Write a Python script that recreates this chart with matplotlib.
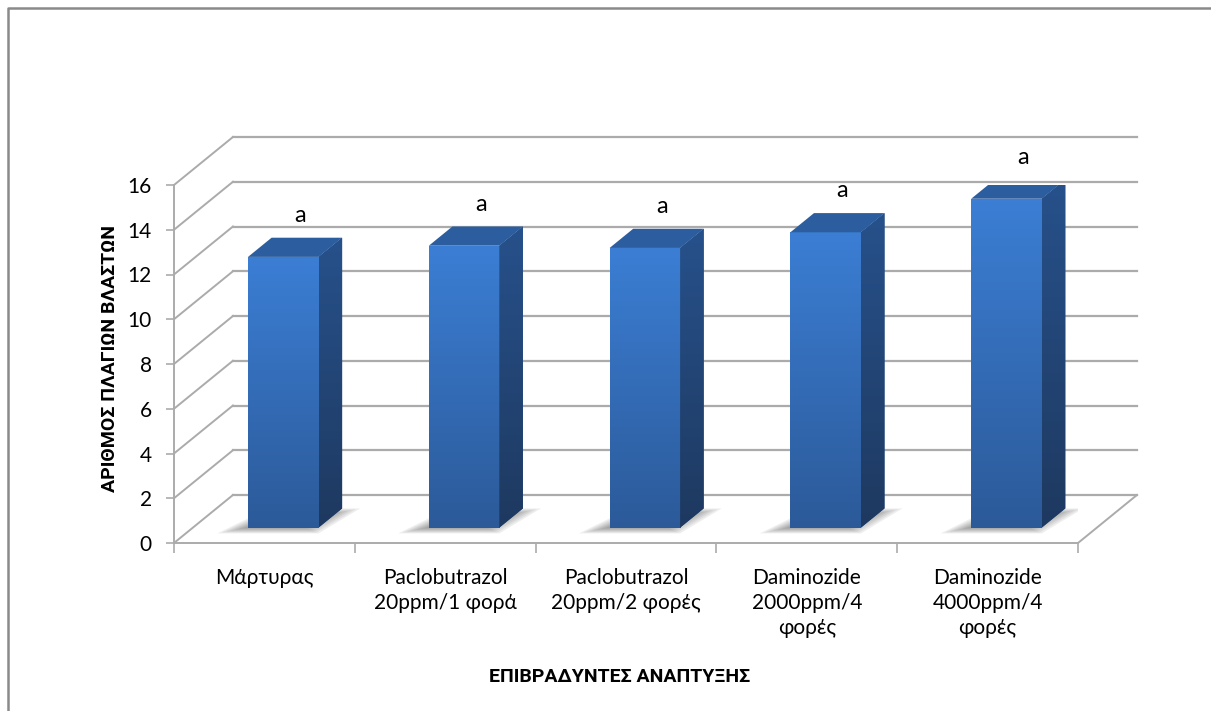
import numpy as np
import matplotlib
matplotlib.use('Agg')
import matplotlib.pyplot as plt
from matplotlib.patches import Polygon
from matplotlib.lines import Line2D

# δεδομένα
categories = ['Μάρτυρας', 'Paclobutrazol\n20ppm/1 φορά', 'Paclobutrazol\n20ppm/2 φορές',
              'Daminozide\n2000ppm/4\nφορές', 'Daminozide\n4000ppm/4\nφορές']
values = [12.1, 12.6, 12.5, 13.2, 14.7]
letters = ['a', 'a', 'a', 'a', 'a']
yticks = [0, 2, 4, 6, 8, 10, 12, 14, 16]
xlabel = 'ΕΠΙΒΡΑΔΥΝΤΕΣ ΑΝΑΠΤΥΞΗΣ'
ylabel = 'ΑΡΙΘΜΟΣ ΠΛΑΓΙΩΝ ΒΛΑΣΤΩΝ'

plt.rcParams['font.family'] = ['Lato', 'Roboto', 'DejaVu Sans']
title_font = ['Roboto', 'DejaVu Sans']

W, H = 1211, 711
fig = plt.figure(figsize=(W / 100, H / 100), dpi=100)
ax = fig.add_axes([174 / W, 168 / H, 904 / W, 358 / H])

# βάθος του 3Δ κουτιού (σε μονάδες δεδομένων)
DX, DY = 0.326, 2.145
f0, f1 = 0.32, 0.72      # μπροστινή / πίσω πλευρά της στήλης
bw = 0.39
grid_c = '#ABABAB'

# πλέγμα: πίσω τοίχος και αριστερός τοίχος
for k in yticks:
    ax.plot([DX, 5 + DX], [k + DY, k + DY], color=grid_c, lw=1.6, zorder=1, clip_on=False)
    ax.plot([0, DX], [k, k + DY], color=grid_c, lw=1.4, zorder=1, clip_on=False)
ax.plot([5, 5 + DX], [0, DY], color=grid_c, lw=1.4, zorder=1, clip_on=False)

grad = np.linspace(1, 0, 100).reshape(-1, 1)
cm_front = matplotlib.colors.LinearSegmentedColormap.from_list('fr', ['#2C5A99', '#3B7ED4'])
cm_side = matplotlib.colors.LinearSegmentedColormap.from_list('sd', ['#1E3960', '#27518B'])


def floor_pt(x, f):
    # σημείο στο δάπεδο σε βάθος f
    return (x + f * DX, f * DY)


sdx, sdy = (f1 - f0) * DX, (f1 - f0) * DY
base = f0 * DY
for i, v in enumerate(values):
    x0 = i + 0.5 - bw / 2 + f0 * DX
    x1 = x0 + bw
    top = base + v
    xl = i + 0.5 - bw / 2

    # σκιά στο δάπεδο
    for s in range(7):
        g = 0.018 * s
        shp = Polygon([floor_pt(xl - 0.13 + g, f0 - 0.12 + g), floor_pt(xl + bw + 0.04 - g, f0 - 0.12 + g),
                       floor_pt(xl + bw + 0.10 - g, f1 - g), floor_pt(xl - 0.02 + g, f1 - g)],
                      closed=True, facecolor='#4A4A4A', edgecolor='none', alpha=0.09, zorder=2)
        ax.add_patch(shp)

    # μπροστινή όψη
    bar = ax.bar(x0, v, width=bw, bottom=base, align='edge', color='#3470BE', zorder=3)[0]
    im = ax.imshow(grad, cmap=cm_front, extent=[x0, x1, base, top], aspect='auto',
                   zorder=3.1, interpolation='bicubic')
    im.set_clip_path(bar)

    # πλαϊνή όψη
    side = Polygon([(x1, base), (x1 + sdx, base + sdy), (x1 + sdx, top + sdy), (x1, top)],
                   closed=True, facecolor='#244A7D', edgecolor='none', zorder=3)
    ax.add_patch(side)
    ims = ax.imshow(grad, cmap=cm_side, extent=[x1, x1 + sdx, base, top + sdy], aspect='auto',
                    zorder=3.1, interpolation='bicubic')
    ims.set_clip_path(side)

    # πάνω όψη
    ax.add_patch(Polygon([(x0, top), (x1, top), (x1 + sdx, top + sdy), (x0 + sdx, top + sdy)],
                         closed=True, facecolor='#2C5E9F', edgecolor='none', zorder=3.2))

    ax.text(i + 0.5 + 0.197, v + 2.55, letters[i], ha='center', va='center', fontsize=17, zorder=5)

ax.set_xlim(0, 5)
ax.set_ylim(0, 16)

# άξονες
for sp in ['top', 'right']:
    ax.spines[sp].set_visible(False)
for sp in ['left', 'bottom']:
    ax.spines[sp].set_color(grid_c)
    ax.spines[sp].set_linewidth(1.4)
ax.set_yticks(yticks)
ax.set_yticklabels([str(t) for t in yticks], fontsize=15)
ax.tick_params(axis='y', length=6, width=1.2, color=grid_c, pad=10)
ax.set_xticks(range(6))
ax.set_xticklabels([])
ax.tick_params(axis='x', which='major', length=7, width=1.2, color=grid_c)
ax.set_xticks(np.arange(5) + 0.5, minor=True)
ax.set_xticklabels(categories, minor=True, fontsize=15, linespacing=1.32)
ax.tick_params(axis='x', which='minor', length=0, pad=18)

fig.text(620 / W, 1 - 677 / H, xlabel, ha='center', va='center', fontsize=14,
         fontweight='bold', family=title_font)
fig.text(110 / W, 1 - 358 / H, ylabel, ha='center', va='center', rotation=90,
         fontsize=14, fontweight='bold', family=title_font)

# περίγραμμα
fig.add_artist(Line2D([7.5 / W, 7.5 / W, 1], [0, 1 - 7.5 / H, 1 - 7.5 / H],
                      transform=fig.transFigure, color='#8A8A8A', lw=1.8))

plt.savefig('out.png', dpi=100)
